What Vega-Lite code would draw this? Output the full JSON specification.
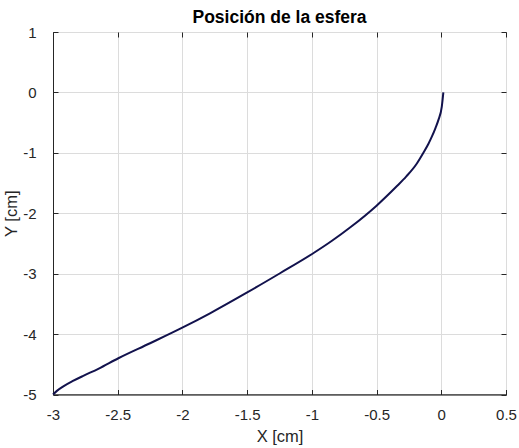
{
  "$schema": "https://vega.github.io/schema/vega-lite/v6.json",
  "autosize": "none",
  "width": 453,
  "height": 362.5,
  "padding": {"left": 53, "top": 32, "right": 13, "bottom": 53.5},
  "background": "white",
  "title": {"text": "Posición de la esfera", "fontSize": 17.5, "fontWeight": "bold", "font": "Liberation Sans", "color": "#000000", "offset": -1, "anchor": "middle"},
  "config": {
    "view": {"stroke": "#262626", "strokeWidth": 1},
    "axis": {"labelFont": "Liberation Sans", "titleFont": "Liberation Sans", "labelFontSize": 15, "titleFontSize": 16.5, "labelColor": "#262626", "titleColor": "#262626", "titleFontWeight": "normal", "domainColor": "#262626", "tickColor": "#262626", "gridColor": "#dcdcdc", "gridWidth": 1}
  },
  "data": {"values": [
    {"x": -3.000, "y": -5.000},
    {"x": -2.970, "y": -4.940},
    {"x": -2.920, "y": -4.865},
    {"x": -2.850, "y": -4.780},
    {"x": -2.770, "y": -4.695},
    {"x": -2.650, "y": -4.575},
    {"x": -2.495, "y": -4.400},
    {"x": -2.250, "y": -4.152},
    {"x": -2.001, "y": -3.894},
    {"x": -1.787, "y": -3.656},
    {"x": -1.503, "y": -3.315},
    {"x": -1.246, "y": -2.993},
    {"x": -0.998, "y": -2.674},
    {"x": -0.850, "y": -2.464},
    {"x": -0.700, "y": -2.228},
    {"x": -0.500, "y": -1.874},
    {"x": -0.350, "y": -1.566},
    {"x": -0.270, "y": -1.390},
    {"x": -0.190, "y": -1.180},
    {"x": -0.138, "y": -0.997},
    {"x": -0.100, "y": -0.853},
    {"x": -0.073, "y": -0.732},
    {"x": -0.045, "y": -0.590},
    {"x": -0.022, "y": -0.455},
    {"x": 0.004, "y": -0.235},
    {"x": 0.016, "y": 0.000}
  ]},
  "resolve": {"axis": {"x": "independent", "y": "independent"}},
  "layer": [
    {
      "mark": {"type": "line", "color": "#12124d", "strokeWidth": 2, "interpolate": "monotone"},
      "encoding": {
        "x": {"field": "x", "type": "quantitative", "scale": {"domain": [-3, 0.5], "nice": false, "zero": false},
          "axis": {"title": "X [cm]", "values": [-3, -2.5, -2, -1.5, -1, -0.5, 0, 0.5], "labelExpr": "'' + datum.value", "tickSize": -5, "labelPadding": 18, "titlePadding": 6, "grid": true, "labelFlush": false}},
        "y": {"field": "y", "type": "quantitative", "scale": {"domain": [-5, 1], "nice": false, "zero": false},
          "axis": {"title": "Y [cm]", "values": [-5, -4, -3, -2, -1, 0, 1], "labelExpr": "'' + datum.value", "tickSize": -5, "labelPadding": 22, "titlePadding": 3, "grid": true, "labelFlush": false}}
      }
    },
    {
      "mark": {"type": "line", "strokeOpacity": 0},
      "encoding": {
        "x": {"field": "x", "type": "quantitative", "axis": {"orient": "top", "title": null, "labels": false, "grid": false, "domain": false, "tickSize": -5, "values": [-3, -2.5, -2, -1.5, -1, -0.5, 0, 0.5]}},
        "y": {"field": "y", "type": "quantitative", "axis": {"orient": "right", "title": null, "labels": false, "grid": false, "domain": false, "tickSize": -5, "values": [-5, -4, -3, -2, -1, 0, 1]}}
      }
    }
  ]
}
